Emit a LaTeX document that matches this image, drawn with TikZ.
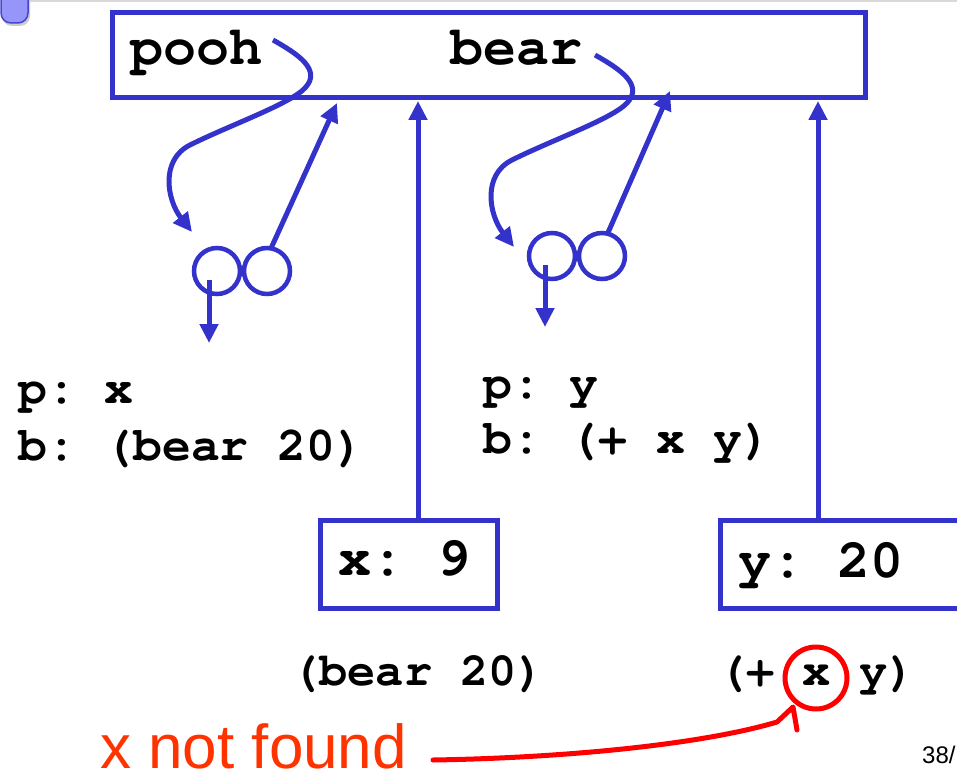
\documentclass[tikz,border=0pt]{standalone}
\usepackage{fontspec}
\setmainfont{Liberation Sans}
\newfontfamily\cour{TeX Gyre Cursor}
\usetikzlibrary{arrows.meta}
\definecolor{envblue}{RGB}{51,51,204}
\definecolor{errred}{RGB}{255,0,0}
\definecolor{errtext}{RGB}{255,51,0}
\definecolor{tabfill}{RGB}{150,150,250}
\definecolor{tabline}{RGB}{70,70,210}
\frenchspacing
\begin{document}
\begin{tikzpicture}[x=1pt,y=-1pt,
  code/.style={font=\cour\bfseries\fontsize{55}{60}\selectfont, inner sep=0, anchor=base west},
  bind/.style={font=\cour\bfseries\fontsize{48}{56}\selectfont, inner sep=0, anchor=base west},
  small/.style={font=\cour\bfseries\fontsize{47}{56}\selectfont, inner sep=0, anchor=base west},
  envbox/.style={draw=envblue, line width=5pt, inner sep=0, outer sep=0, anchor=north west},
  cell/.style={circle, draw=envblue, line width=4.5pt, minimum size=46pt, inner sep=0, outer sep=0},
  arr/.style={draw=envblue, line width=5pt, -{Triangle[length=19pt,width=18pt]}},
  errline/.style={draw=errred, line width=5pt, line join=round, line cap=round},
]
\useasboundingbox (0,0) rectangle (957,775);
\clip (0,0) rectangle (957,775);
\fill[white] (0,0) rectangle (957,775);

% slide artifacts
\draw[black!15, line width=2pt] (29,1) -- (957,1);
\fill[black!20, rounded corners=10pt] (2,-12) rectangle (30,26);
\draw[fill=tabfill, draw=tabline, line width=1.5pt, rounded corners=10pt] (1,-12) rectangle (28,23);

% global frame
\node[envbox, minimum width=753pt, minimum height=85pt] (frame) at (112.5,12.5) {};
\node[code] (pooh) at (130,65) {pooh};
\node[code] (bear) at (450,65) {bear};

% pairs
\node[cell] (p1l) at (217,271) {};
\node[cell] (p1r) at (267,271) {};
\node[cell] (p2l) at (552,256) {};
\node[cell] (p2r) at (602,256) {};

% frame -> pair arrows
\coordinate (c1s) at (273,40);
\coordinate (c1t) at (192,232);
\draw[arr] (c1s) .. controls (298,54) and (322,70) .. (305,88)
  .. controls (290,104) and (230,125) .. (190,145)
  .. controls (160,160) and (167,200) .. (c1t);
\coordinate (c2s) at (595,55);
\coordinate (c2t) at (514,247);
\draw[arr] (c2s) .. controls (620,69) and (644,85) .. (627,103)
  .. controls (612,119) and (552,140) .. (512,160)
  .. controls (482,175) and (489,215) .. (c2t);

% pair -> frame
\coordinate (u1) at (337,103);
\coordinate (u2) at (670,91);
\draw[arr] (p1r.80) -- (u1);
\draw[arr] (p2r.76) -- (u2);

% pair -> down
\coordinate (d1) at (209,343);
\coordinate (d2) at (545,327);
\draw[arr] ([xshift=-8pt,yshift=-9pt]p1l.center) -- (d1);
\draw[arr] ([xshift=-7pt,yshift=-9pt]p2l.center) -- (d2);

% bindings
\node[bind] (b1p) at (18,403) {p: x};
\node[bind] (b1b) at (18,460) {b: (bear 20)};
\node[bind] (b2p) at (483,398) {p: y};
\node[bind] (b2b) at (483,453) {b: (+ x y)};

% frames x, y
\node[envbox, minimum width=177pt, minimum height=88pt] (xbox) at (320.5,520) {};
\node[code] (xlab) at (338,575) {x: 9};
\node[envbox, minimum width=300pt, minimum height=88pt] (ybox) at (720.5,520) {};
\node[code] (ylab) at (738,577) {y: 20};
\coordinate (xtop) at (418,101);
\coordinate (ytop) at (818,101);
\draw[arr] ([xshift=9pt]xbox.north) -- (xtop);
\draw[arr] ([xshift=-52.5pt]ybox.north) -- (ytop);

% expressions
\node[small] (e1) at (291,685) {(bear 20)};
\node[small] (e2) at (718,685) {(+ x y)};
\node[circle, draw=errred, line width=5pt, minimum size=62pt, inner sep=0, outer sep=0] (xcirc) at (816,678) {};

% error note
\node[font=\fontsize{62}{70}\selectfont, text=errtext, inner sep=0, anchor=base west] (nf) at (100,768) {x not found};
\coordinate (rs) at (433,760);
\coordinate (rk) at (777,722);
\coordinate (rt) at (793,707);
\coordinate (rb) at (797,730);
\draw[errline] (rs) .. controls (560,758) and (700,745) .. (rk) -- (rt) -- (rb);

\node[font=\fontsize{24}{28}\selectfont, inner sep=0, anchor=base west] (pg) at (922,763) {38/};
\end{tikzpicture}
\end{document}
